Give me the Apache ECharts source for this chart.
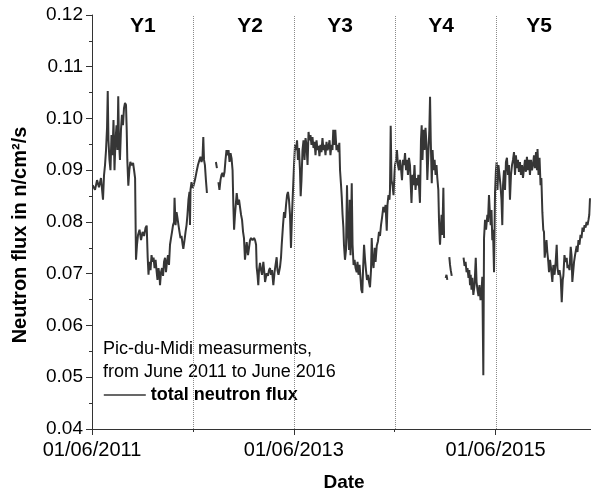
<!DOCTYPE html>
<html><head><meta charset="utf-8">
<script src="https://cdn.jsdelivr.net/npm/echarts@6/dist/echarts.min.js"></script>
<style>html,body{margin:0;padding:0;background:#fff}#c{width:591px;height:492px}</style>
</head><body><div id="c"></div><script>
// x = decimal year, y = total neutron flux (n/cm2/s); null = no data
const year1 = [[2011.424,.0871],[2011.447,.0862],[2011.467,.0881],[2011.486,.0867],[2011.506,.0885],[2011.526,.0843],[2011.536,.0890],[2011.546,.0910],[2011.556,.0939],[2011.566,.0982],[2011.573,.1053],[2011.580,.0958],[2011.590,.0920],[2011.600,.0900],[2011.610,.0968],[2011.620,.0929],[2011.630,.0997],[2011.640,.0900],[2011.650,.0958],[2011.660,.0987],[2011.669,.0939],[2011.677,.1043],[2011.684,.0958],[2011.694,.0920],[2011.704,.0978],[2011.714,.1007],[2011.724,.0987],[2011.734,.1020],[2011.744,.1030],[2011.754,.1026],[2011.761,.0978],[2011.767,.0920],[2011.777,.0870],[2011.787,.0900],[2011.797,.0916],[2011.809,.0910],[2011.824,.0914],[2011.834,.0900],[2011.844,.0885],[2011.853,.0727],[2011.863,.0756],[2011.873,.0775],[2011.888,.0785],[2011.903,.0765],[2011.918,.0781],[2011.933,.0773],[2011.948,.0789],[2011.959,.0793],[2011.969,.0731],[2011.977,.0698],[2011.985,.0723],[2011.997,.0707],[2012.007,.0736],[2012.017,.0723],[2012.027,.0731],[2012.037,.0711],[2012.047,.0727],[2012.058,.0703],[2012.066,.0688],[2012.076,.0711],[2012.086,.0696],[2012.091,.0678],[2012.101,.0703],[2012.111,.0711],[2012.121,.0696],[2012.131,.0723],[2012.141,.0731],[2012.150,.0703],[2012.160,.0723],[2012.170,.0736],[2012.180,.0717],[2012.190,.0756],[2012.200,.0769],[2012.210,.0781],[2012.220,.0794],[2012.230,.0800],[2012.235,.0847],[2012.245,.0794],[2012.255,.0819],[2012.264,.0808],[2012.274,.0794],[2012.284,.0781],[2012.294,.0769],[2012.304,.0773],[2012.314,.0758],[2012.322,.0748],[2012.334,.0765],[2012.344,.0781],[2012.354,.0794],[2012.363,.0814],[2012.373,.0843],[2012.383,.0858],[2012.388,.0794],[2012.393,.0862],[2012.403,.0877],[2012.413,.0866],[2012.423,.0870]];
const year2 = [[2012.437,.0881],[2012.452,.0896],[2012.467,.0910],[2012.482,.0920],[2012.492,.0926],[2012.502,.0916],[2012.512,.0923],[2012.520,.0964],[2012.527,.0920],[2012.536,.0910],[2012.546,.0881],[2012.556,.0856],[2012.600,null],[2012.645,.0916],[2012.655,.0904],[2012.662,null],[2012.670,.0877],[2012.680,.0862],[2012.690,.0881],[2012.700,.0891],[2012.710,.0895],[2012.720,.0887],[2012.730,.0896],[2012.740,.0920],[2012.750,.0939],[2012.760,.0929],[2012.770,.0939],[2012.780,.0916],[2012.790,.0933],[2012.800,.0923],[2012.810,.0900],[2012.818,.0831],[2012.825,.0785],[2012.834,.0814],[2012.851,.0856],[2012.864,.0833],[2012.874,.0843],[2012.884,.0843],[2012.894,.0814],[2012.904,.0804],[2012.914,.0781],[2012.923,.0769],[2012.933,.0727],[2012.950,.0761],[2012.963,.0736],[2012.973,.0750],[2012.983,.0765],[2012.993,.0769],[2013.008,.0765],[2013.023,.0769],[2013.033,.0765],[2013.043,.0756],[2013.049,.0713],[2013.057,.0698],[2013.065,.0678],[2013.072,.0707],[2013.082,.0721],[2013.092,.0707],[2013.102,.0698],[2013.115,.0723],[2013.127,.0698],[2013.132,.0684],[2013.148,.0701],[2013.161,.0696],[2013.171,.0707],[2013.181,.0711],[2013.191,.0698],[2013.201,.0707],[2013.214,.0678],[2013.226,.0703],[2013.236,.0717],[2013.247,.0732],[2013.255,.0707],[2013.265,.0698],[2013.280,.0713],[2013.290,.0731],[2013.297,.0756],[2013.310,.0794],[2013.320,.0819],[2013.330,.0808],[2013.340,.0833],[2013.350,.0852],[2013.359,.0858],[2013.369,.0843],[2013.379,.0814],[2013.389,.0750],[2013.399,.0814],[2013.409,.0862],[2013.419,.0910]];
const year3 = [[2013.429,.0949],[2013.439,.0939],[2013.449,.0958],[2013.458,.0920],[2013.468,.0943],[2013.478,.0900],[2013.485,.0850],[2013.493,.0881],[2013.503,.0939],[2013.513,.0958],[2013.523,.0920],[2013.533,.0962],[2013.543,.0949],[2013.553,.0910],[2013.563,.0974],[2013.572,.0958],[2013.582,.0968],[2013.592,.0949],[2013.602,.0964],[2013.612,.0943],[2013.622,.0955],[2013.632,.0929],[2013.642,.0958],[2013.652,.0939],[2013.662,.0947],[2013.671,.0927],[2013.681,.0949],[2013.691,.0935],[2013.701,.0962],[2013.711,.0939],[2013.721,.0949],[2013.731,.0929],[2013.741,.0955],[2013.751,.0939],[2013.761,.0945],[2013.771,.0958],[2013.780,.0929],[2013.790,.0949],[2013.800,.0939],[2013.808,.0978],[2013.820,.0949],[2013.828,.0978],[2013.840,.0939],[2013.850,.0949],[2013.860,.0935],[2013.868,.0953],[2013.875,.0900],[2013.885,.0871],[2013.892,.0848],[2013.900,.0814],[2013.908,.0790],[2013.914,.0756],[2013.924,.0727],[2013.934,.0746],[2013.944,.0871],[2013.954,.0775],[2013.964,.0746],[2013.971,.0843],[2013.979,.0736],[2013.991,.0875],[2013.999,.0756],[2014.009,.0717],[2014.019,.0727],[2014.029,.0711],[2014.040,.0703],[2014.048,.0723],[2014.058,.0698],[2014.068,.0717],[2014.078,.0692],[2014.086,.0669],[2014.096,.0663],[2014.103,.0707],[2014.113,.0756],[2014.123,.0727],[2014.132,.0707],[2014.142,.0688],[2014.152,.0698],[2014.162,.0684],[2014.172,.0674],[2014.182,.0707],[2014.189,.0769],[2014.197,.0727],[2014.207,.0711],[2014.219,.0750],[2014.227,.0723],[2014.239,.0754],[2014.251,.0763],[2014.261,.0781],[2014.271,.0773],[2014.281,.0794],[2014.291,.0808],[2014.304,.0829],[2014.316,.0819],[2014.326,.0833],[2014.338,.0783],[2014.345,.0833],[2014.355,.0852],[2014.365,.0843],[2014.370,.0862],[2014.377,.0986],[2014.385,.0881],[2014.395,.0871],[2014.405,.0852],[2014.415,.0895]];
const year4 = [[2014.420,.0910],[2014.430,.0920],[2014.439,.0939],[2014.449,.0910],[2014.459,.0900],[2014.469,.0920],[2014.479,.0904],[2014.489,.0881],[2014.499,.0920],[2014.509,.0910],[2014.519,.0933],[2014.529,.0900],[2014.538,.0920],[2014.548,.0891],[2014.558,.0924],[2014.568,.0910],[2014.583,.0837],[2014.593,.0891],[2014.603,.0871],[2014.613,.0910],[2014.623,.0862],[2014.633,.0885],[2014.643,.0871],[2014.651,.0891],[2014.660,.0862],[2014.667,.0837],[2014.677,.0958],[2014.684,.0987],[2014.692,.0920],[2014.702,.0978],[2014.712,.0939],[2014.722,.0982],[2014.732,.0949],[2014.740,.0881],[2014.752,.0939],[2014.760,.0978],[2014.767,.1042],[2014.774,.0958],[2014.784,.0875],[2014.792,.0939],[2014.802,.0900],[2014.812,.0920],[2014.822,.0891],[2014.831,.0910],[2014.839,.0885],[2014.849,.0862],[2014.856,.0802],[2014.863,.0765],[2014.866,.0756],[2014.873,.0785],[2014.881,.0814],[2014.889,.0775],[2014.899,.0866],[2014.906,.0769],[2014.914,null],[2014.922,.0692],[2014.930,.0698],[2014.938,.0688],[2014.948,null],[2014.958,.0732],[2014.965,.0717],[2014.972,.0707],[2014.982,.0696],[2015.040,null],[2015.099,.0731],[2015.109,.0715],[2015.119,.0723],[2015.129,.0703],[2015.138,.0711],[2015.148,.0692],[2015.156,.0707],[2015.163,.0678],[2015.170,.0698],[2015.178,.0669],[2015.186,.0692],[2015.196,.0659],[2015.208,.0678],[2015.220,.0731],[2015.228,.0684],[2015.237,.0669],[2015.247,.0657],[2015.257,.0678],[2015.267,.0649],[2015.277,.0665],[2015.285,.0694],[2015.295,.0504],[2015.302,.0769],[2015.312,.0804],[2015.322,.0785],[2015.335,.0814],[2015.341,.0800],[2015.351,.0852],[2015.361,.0814],[2015.368,.0794],[2015.376,.0823],[2015.384,.0765],[2015.391,.0785],[2015.401,.0703],[2015.411,.0858]];
const year5 = [[2015.420,.0900],[2015.427,.0916],[2015.435,.0862],[2015.445,.0910],[2015.455,.0891],[2015.465,.0871],[2015.475,.0843],[2015.483,.0794],[2015.490,.0871],[2015.500,.0900],[2015.510,.0862],[2015.519,.0916],[2015.529,.0924],[2015.539,.0891],[2015.549,.0910],[2015.559,.0843],[2015.569,.0891],[2015.579,.0910],[2015.589,.0920],[2015.599,.0935],[2015.609,.0891],[2015.618,.0929],[2015.628,.0904],[2015.638,.0920],[2015.648,.0897],[2015.658,.0916],[2015.668,.0891],[2015.678,.0910],[2015.688,.0885],[2015.698,.0904],[2015.708,.0920],[2015.717,.0897],[2015.727,.0926],[2015.737,.0900],[2015.747,.0920],[2015.757,.0891],[2015.767,.0920],[2015.777,.0900],[2015.787,.0910],[2015.797,.0929],[2015.807,.0904],[2015.817,.0935],[2015.827,.0900],[2015.832,.0941],[2015.842,.0891],[2015.852,.0924],[2015.862,.0871],[2015.870,.0885],[2015.880,.0819],[2015.889,.0785],[2015.896,.0781],[2015.903,.0731],[2015.911,.0746],[2015.921,.0765],[2015.929,.0742],[2015.939,.0723],[2015.946,.0703],[2015.956,.0727],[2015.966,.0711],[2015.979,.0684],[2015.989,.0717],[2016.001,.0698],[2016.012,.0723],[2016.022,.0756],[2016.030,.0711],[2016.040,.0698],[2016.050,.0707],[2016.062,.0692],[2016.072,.0645],[2016.082,.0688],[2016.088,.0696],[2016.099,.0736],[2016.109,.0723],[2016.121,.0731],[2016.129,.0711],[2016.137,.0717],[2016.149,.0707],[2016.161,.0752],[2016.169,.0736],[2016.177,.0684],[2016.187,.0707],[2016.194,.0723],[2016.204,.0736],[2016.220,.0754],[2016.228,.0742],[2016.238,.0765],[2016.248,.0756],[2016.258,.0775],[2016.268,.0769],[2016.278,.0789],[2016.288,.0781],[2016.298,.0794],[2016.308,.0789],[2016.318,.0800],[2016.328,.0794],[2016.337,.0804],[2016.345,.0814],[2016.352,.0846]];

const yearStarts = [2011.417, 2012.417, 2013.417, 2014.417, 2015.417];   // 1 June of each year
const labelledStarts = [2011.417, 2013.417, 2015.417];
const dateLabels = ['01/06/2011', '01/06/2013', '01/06/2015'];
const periodNames = ['Y1', 'Y2', 'Y3', 'Y4', 'Y5'];
const periodLabelX = [2011.922, 2012.983, 2013.875, 2014.876, 2015.847];
const periodLabelY = 0.1179;
const yTicks = {min: 0.04, max: 0.12, step: 0.01};
const xRange = {min: 2011.417, max: 2016.362};

const FONT = '"Liberation Sans", Arial, sans-serif';
const LINE = '#363636';
const AXIS = '#333333';

const data = [].concat(year1, year2, year3, year4, year5).map(p => [p[0], p[1] === null ? '-' : p[1]]);

const chart = echarts.init(document.getElementById('c'), null, {renderer: 'canvas'});
chart.setOption({
  animation: false,
  backgroundColor: '#ffffff',
  textStyle: {fontFamily: FONT},
  grid: {left: 92, right: 0, top: 15, bottom: 63, containLabel: false},
  xAxis: [{
    type: 'value', min: xRange.min, max: xRange.max,
    axisLine: {show: true, lineStyle: {color: AXIS, width: 1}},
    axisTick: {show: true, customValues: yearStarts, length: 3, lineStyle: {color: AXIS}},
    axisLabel: {show: false},
    splitLine: {show: false}
  }, {
    type: 'value', min: xRange.min, max: xRange.max, position: 'bottom',
    axisLine: {show: false},
    axisTick: {show: true, customValues: labelledStarts, length: 6, lineStyle: {color: AXIS}},
    axisLabel: {
      show: true, customValues: labelledStarts, margin: 11, fontSize: 20, color: '#000', fontFamily: FONT,
      formatter: v => { let b = 0, d = 1e9; labelledStarts.forEach((s, i) => { if (Math.abs(s - v) < d) { d = Math.abs(s - v); b = i; } }); return dateLabels[b]; }
    },
    splitLine: {show: false}
  }],
  yAxis: {
    type: 'value', min: yTicks.min, max: yTicks.max, interval: yTicks.step,
    axisLine: {show: true, lineStyle: {color: AXIS, width: 1}},
    axisTick: {show: true, length: 6, lineStyle: {color: AXIS}},
    minorTick: {show: true, splitNumber: 2, length: 3, lineStyle: {color: AXIS}},
    axisLabel: {formatter: v => v.toFixed(2), fontSize: 19, color: '#000', margin: 9, fontFamily: FONT},
    splitLine: {show: false}
  },
  legend: {
    data: ['total neutron flux'], left: 103, top: 386, padding: 0,
    itemWidth: 42, itemHeight: 14,
    itemStyle: {opacity: 0},
    lineStyle: {color: LINE, width: 1.6},
    textStyle: {fontSize: 18, fontWeight: 'bold', color: '#000', fontFamily: FONT}
  },
  series: [{
    type: 'line', name: 'total neutron flux', xAxisIndex: 0, data: data,
    symbol: 'none', showSymbol: false, connectNulls: false,
    lineStyle: {color: LINE, width: 2}, itemStyle: {color: LINE},
    markLine: {
      silent: true, symbol: ['none', 'none'], label: {show: false},
      lineStyle: {type: 'dotted', color: '#8a8a8a', width: 1},
      data: yearStarts.slice(1).map(v => ({xAxis: v}))
    },
    markPoint: {
      silent: true, symbol: 'circle', symbolSize: 1, itemStyle: {color: 'rgba(0,0,0,0)'},
      label: {show: true, position: 'inside', formatter: '{b}', fontSize: 21, fontWeight: 'bold', color: '#000', fontFamily: FONT},
      data: periodNames.map((n, i) => ({name: n, coord: [periodLabelX[i], periodLabelY]}))
    }
  }],
  graphic: [
    {type: 'text', x: 20, y: 235, rotation: Math.PI / 2,
     style: {text: 'Neutron flux in n/cm²/s', font: 'bold 20px ' + FONT, fill: '#000', textAlign: 'center', textVerticalAlign: 'middle', align: 'center', verticalAlign: 'middle'}},
    {type: 'text', x: 344, y: 483,
     style: {text: 'Date', font: 'bold 19px ' + FONT, fill: '#000', textAlign: 'center', textVerticalAlign: 'middle', align: 'center', verticalAlign: 'middle'}},
    {type: 'text', x: 103, y: 349,
     style: {text: 'Pic-du-Midi measurments,', font: '18px ' + FONT, fill: '#000', textAlign: 'left', textVerticalAlign: 'middle', align: 'left', verticalAlign: 'middle'}},
    {type: 'text', x: 103, y: 372,
     style: {text: 'from June 2011 to June 2016', font: '18px ' + FONT, fill: '#000', textAlign: 'left', textVerticalAlign: 'middle', align: 'left', verticalAlign: 'middle'}}
  ]
});
</script></body></html>
